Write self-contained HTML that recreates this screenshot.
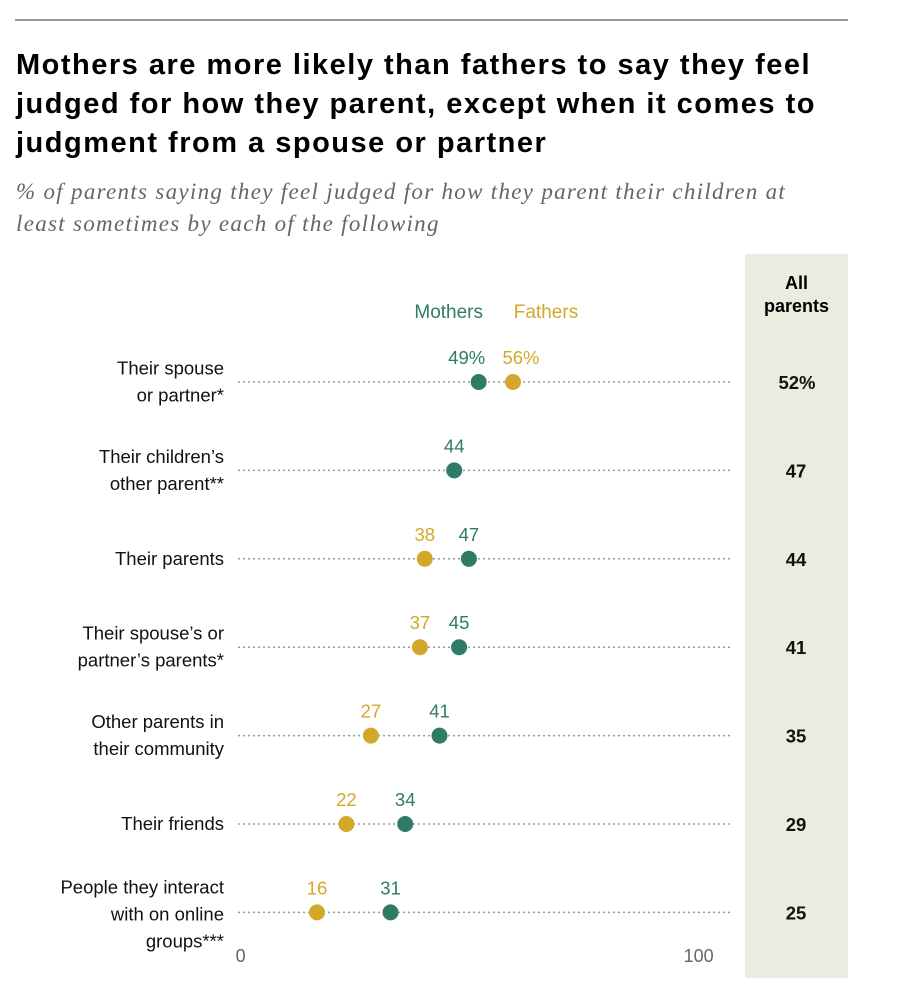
<!DOCTYPE html>
<html><head><meta charset="utf-8"><style>
body{margin:0;background:#fff;width:904px;height:994px;overflow:hidden;font-family:"Liberation Sans",sans-serif;position:relative}
.t{position:absolute}
</style></head><body>
<div class="t" style="left:15px;top:19px;width:833px;height:2px;background:#999"></div>
<div class="t" style="left:16px;top:46px;width:820px;font-size:29px;letter-spacing:1.5px;font-weight:bold;line-height:39px;color:#000">Mothers are more likely than fathers to say they feel judged for how they parent, except when it comes to judgment from a spouse or partner</div>
<div class="t" style="left:16px;top:176px;width:815px;font-family:'Liberation Serif',serif;font-style:italic;font-size:23px;letter-spacing:1.3px;line-height:32px;color:#666">% of parents saying they feel judged for how they parent their children at least sometimes by each of the following</div>
<div class="t" style="left:745px;top:254px;width:103px;height:724px;background:#ecebdf"></div>
<div class="t" style="left:745px;top:272px;width:103px;text-align:center;font-weight:bold;font-size:18px;line-height:23px">All<br>parents</div>
<svg class="t" id="chart" style="left:0;top:0" width="904" height="994"></svg>
<script>
const categories=["Their spouse\nor partner*","Their children’s\nother parent**","Their parents","Their spouse’s or\npartner’s parents*","Other parents in\ntheir community","Their friends","People they interact\nwith on online\ngroups***"];
const mothers=[49,44,47,45,41,34,31];
const fathers=[56,null,38,37,27,22,16];
const allParents=[52,47,44,41,35,29,25];
const tickLabels=[0,100];
const MC="#2e7b68",FC="#d3a82a";
const svg=document.getElementById('chart');const NS="http://www.w3.org/2000/svg";
const x=v=>238.6+v*4.9;const y=i=>382+i*88.4;
function mk(t,a,txt){const e=document.createElementNS(NS,t);for(const k in a)e.setAttribute(k,a[k]);if(txt!=null)e.textContent=txt;svg.appendChild(e);return e;}
let e;
e=mk('text',{x:x(49)-30,y:318,'text-anchor':'middle','font-size':19,fill:MC,'font-family':'Liberation Sans'},'Mothers');


e=mk('text',{x:x(56)+33,y:318,'text-anchor':'middle','font-size':19,fill:FC,'font-family':'Liberation Sans'},'Fathers');


tickLabels.forEach(t=>{const e=mk('text',{x:t===0?x(t)+2:x(t)-30,y:962,'text-anchor':'middle','font-size':18,fill:'#666','font-family':'Liberation Sans'},String(t));

});
categories.forEach((c,i)=>{const yy=y(i);
const ln=mk('line',{x1:238,x2:730,y1:yy,y2:yy,stroke:'#999','stroke-width':1.5,'stroke-dasharray':'2 3'});


const lines=c.split('\n');const lh=27;const y0=yy+6-(lines.length-1)*lh/2;
lines.forEach((l,j)=>{const e=mk('text',{x:224,y:(lines.length===3?yy-19:y0)+j*lh,'text-anchor':'end','font-size':18.5,fill:'#111','font-family':'Liberation Sans'},l);

});
const m=mothers[i],f=fathers[i];
const lab=(v,col,pct,anc,dx)=>{const e=mk('text',{x:x(v)+dx,y:yy-18,'text-anchor':anc,'font-size':18.5,fill:col,'font-family':'Liberation Sans'},v+(pct?'%':''));

};
if(f!=null){const e=mk('circle',{cx:x(f),cy:yy,r:8,fill:FC});


lab(f,FC,i===0,'middle',i===0?8:0);}
if(m!=null){const e=mk('circle',{cx:x(m),cy:yy,r:8,fill:MC});


lab(m,MC,i===0,'middle',i===0?-12:0);}
const a=mk('text',{x:i===0?797:796,y:yy+7,'text-anchor':'middle','font-size':18.5,'font-weight':'bold',fill:'#111','font-family':'Liberation Sans'},allParents[i]+(i===0?'%':''));


});
</script>
</body></html>
